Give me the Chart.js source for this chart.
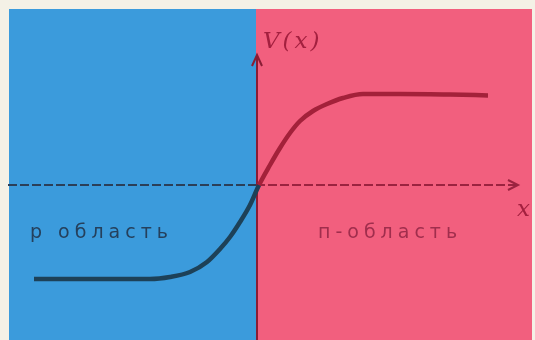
<!DOCTYPE html>
<html>
<head>
<meta charset="utf-8">
<script src="https://cdn.jsdelivr.net/npm/chart.js@4.4.1/dist/chart.umd.min.js"></script>
<style>
  html, body { margin: 0; padding: 0; background: #f4f1e6; }
  #wrap { width: 535px; height: 340px; }
</style>
</head>
<body>
<div id="wrap"><canvas id="pnChart"></canvas></div>
<script>
// potential V(x) across the p-n junction
var xs = [-11.1, -7.8, -5.3, -4.3, -3.3, -2.45, -1.8, -1.3, -0.8, -0.3, 0.15, 0.7, 1.2, 1.7, 2.2, 2.85, 3.55, 4.35, 5.35, 7.2, 9.7, 11.6];
var vs = [-4.7, -4.7, -4.7, -4.6, -4.35, -3.85, -3.2, -2.6, -1.85, -1.0, 0, 1.0, 1.85, 2.6, 3.2, 3.7, 4.05, 4.35, 4.55, 4.55, 4.52, 4.48];
var regionLabels = ['р область', 'п-область'];
var axisLabels = ['V(x)', 'x'];

var points = xs.map(function (x, i) { return { x: x, y: vs[i] }; });

var backdrop = {
    id: 'backdrop',
    beforeDraw: function (chart) {
        var c = chart.ctx, sx = chart.scales.x, sy = chart.scales.y;
        c.save();
        c.fillStyle = '#f4f1e6';
        c.fillRect(0, 0, chart.width, chart.height);
        var top = sy.getPixelForValue(8.8), bot = sy.getPixelForValue(-7.75);
        var x0 = sx.getPixelForValue(0);
        c.fillStyle = '#3b9bdc';
        c.fillRect(sx.getPixelForValue(-12.35), top, x0 - sx.getPixelForValue(-12.35), bot - top);
        c.fillStyle = '#f25f7e';
        c.fillRect(x0, top, sx.getPixelForValue(13.8) - x0, bot - top);

        // horizontal axis (dashed) with arrow
        var y0 = sy.getPixelForValue(0);
        var tipX = sx.getPixelForValue(13.1);
        c.lineWidth = 2;
        c.setLineDash([9, 3]);
        c.strokeStyle = '#2b3f58';
        c.beginPath();
        c.moveTo(sx.getPixelForValue(-12.4), y0);
        c.lineTo(x0, y0);
        c.stroke();
        c.strokeStyle = '#9b2340';
        c.beginPath();
        c.moveTo(x0, y0);
        c.lineTo(tipX - 2, y0);
        c.stroke();
        c.setLineDash([]);
        c.beginPath();
        c.moveTo(tipX - 10, y0 - 5);
        c.lineTo(tipX, y0);
        c.lineTo(tipX - 10, y0 + 5);
        c.stroke();

        // vertical axis with arrow
        var tipY = sy.getPixelForValue(6.5);
        c.strokeStyle = '#8a1d35';
        c.lineWidth = 2;
        c.beginPath();
        c.moveTo(x0 + 1, bot);
        c.lineTo(x0 + 1, tipY);
        c.stroke();
        c.beginPath();
        c.moveTo(x0 - 4, tipY + 11);
        c.lineTo(x0 + 1, tipY);
        c.lineTo(x0 + 6, tipY + 11);
        c.stroke();

        // labels
        c.textBaseline = 'alphabetic';
        c.textAlign = 'left';
        c.font = '19px "DejaVu Sans"';
        c.letterSpacing = '5px';
        c.fillStyle = '#25405c';
        c.fillText(regionLabels[0], sx.getPixelForValue(-11.3), sy.getPixelForValue(-2.65));
        c.fillStyle = '#a02e4d';
        c.fillText(regionLabels[1], sx.getPixelForValue(3.1), sy.getPixelForValue(-2.65));
        c.font = 'italic 23px "DejaVu Serif"';
        c.letterSpacing = '3px';
        c.fillStyle = '#a3203f';
        c.fillText(axisLabels[0], sx.getPixelForValue(0.35), sy.getPixelForValue(6.85));
        c.letterSpacing = '0px';
        c.fillText(axisLabels[1], sx.getPixelForValue(13.05), sy.getPixelForValue(-1.55));
        c.restore();
    }
};

var ctx = document.getElementById('pnChart').getContext('2d');
var pnChart = new Chart(ctx, {
    type: 'line',
    data: {
        datasets: [{
            data: points,
            borderWidth: 4.5,
            borderColor: '#1d4158',
            segment: {
                borderColor: function (s) { return s.p0.parsed.x >= 0.1 ? '#a3213a' : '#1d4158'; }
            },
            pointRadius: 0,
            cubicInterpolationMode: 'monotone',
            fill: false,
            clip: false
        }]
    },
    options: {
        responsive: true,
        maintainAspectRatio: false,
        animation: false,
        layout: { padding: 0 },
        plugins: { legend: { display: false }, tooltip: { enabled: false } },
        scales: {
            x: { type: 'linear', min: -12.8, max: 13.95, display: false },
            y: { type: 'linear', min: -7.75, max: 9.25, display: false }
        }
    },
    plugins: [backdrop]
});
</script>
</body>
</html>
